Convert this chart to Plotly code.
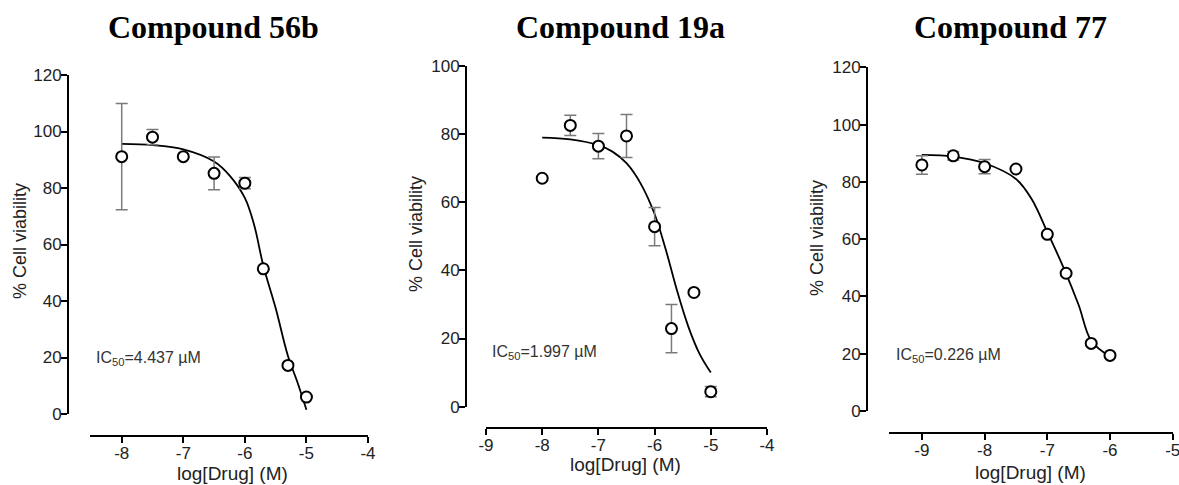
import plotly.graph_objects as go

W, H = 1179, 485

# ---------------- data ----------------
titles = ["Compound 56b", "Compound 19a", "Compound 77"]
ic50_labels = ["4.437", "1.997", "0.226"]

# Compound 56b
x1 = [-8.0, -7.5, -7.0, -6.5, -6.0, -5.7, -5.3, -5.0]
y1 = [91.1, 98.0, 91.1, 85.2, 81.7, 51.4, 17.2, 6.0]
e1 = [18.8, 2.7, 0.0, 5.8, 2.0, 0.0, 0.0, 0.0]
x1_fit = [-8.0, -7.5, -7.0, -6.5, -6.25, -6.0, -5.85, -5.7, -5.5, -5.3, -5.15, -5.0]
y1_fit = [95.6, 95.2, 93.7, 89.4, 84.5, 76.5, 67.0, 52.5, 37.5, 20.5, 11.5, 1.5]

# Compound 19a
x2 = [-8.0, -7.5, -7.0, -6.5, -6.0, -5.7, -5.3, -5.0]
y2 = [67.0, 82.5, 76.4, 79.4, 52.8, 22.9, 33.5, 4.4]
e2 = [0.0, 3.0, 3.7, 6.3, 5.6, 7.1, 0.0, 1.5]
x2_fit = [-8.0, -7.5, -7.0, -6.75, -6.5, -6.25, -6.0, -5.8, -5.6, -5.4, -5.2, -5.0]
y2_fit = [78.9, 78.4, 76.7, 74.8, 71.4, 65.5, 56.5, 46.0, 34.0, 23.5, 15.5, 10.0]

# Compound 77
x3 = [-9.0, -8.5, -8.0, -7.5, -7.0, -6.7, -6.3, -6.0]
y3 = [85.9, 89.1, 85.3, 84.5, 61.7, 48.1, 23.6, 19.4]
e3 = [3.2, 1.5, 2.5, 0.0, 0.0, 0.0, 0.0, 0.0]
x3_fit = [-9.0, -8.5, -8.0, -7.5, -7.25, -7.0, -6.75, -6.5, -6.3, -6.0]
y3_fit = [89.4, 88.8, 86.5, 81.0, 74.0, 62.5, 50.5, 37.0, 24.5, 19.0]

x_ranges = [[-8.515, -4.0], [-9.0, -4.0], [-9.52, -5.0]]
y_ranges = [[0, 120], [0, 100], [0, 120]]
x_ticks = [[-8, -7, -6, -5, -4], [-9, -8, -7, -6, -5, -4], [-9, -8, -7, -6, -5]]
y_ticks = [[0, 20, 40, 60, 80, 100, 120], [0, 20, 40, 60, 80, 100], [0, 20, 40, 60, 80, 100, 120]]

# ---------------- layout geometry (pixels) ----------------
xax_px = [(90, 368, 436), (486, 767, 427.7), (889.3, 1172.7, 432.7)]
yax_px = [(68, 414, 75), (466, 406.7, 65.7), (867, 411, 67.3)]
title_px = [(213, 27), (620, 27), (1010, 27)]
ic50_px = [(94, 358), (490, 352), (894, 355)]
ytitle_px = [(20, 241), (416, 234), (817, 238)]
xtitle_px = [(232, 473), (625, 464), (1030, 472)]


def px(x):
    return x / W


def py(y):
    return 1 - y / H


fig = go.Figure()
series = [(x1, y1, e1, x1_fit, y1_fit), (x2, y2, e2, x2_fit, y2_fit), (x3, y3, e3, x3_fit, y3_fit)]

tick_font = dict(family="Liberation Sans, Arial, sans-serif", size=17, color="#222")
layout = {}
annotations = []
for i, (xs, ys, es, xf, yf) in enumerate(series):
    n = "" if i == 0 else str(i + 1)
    xa, ya = "x" + n, "y" + n
    fig.add_trace(go.Scatter(x=xf, y=yf, mode="lines", line=dict(color="black", width=1.8, shape="spline", smoothing=1.0),
                             xaxis=xa, yaxis=ya, showlegend=False, hoverinfo="skip", cliponaxis=False))
    fig.add_trace(go.Scatter(x=xs, y=ys, mode="markers",
                             marker=dict(symbol="circle", size=11, color="white", line=dict(color="black", width=2)),
                             error_y=dict(type="data", array=es, visible=True, color="#7a7a7a", thickness=1.5, width=6),
                             xaxis=xa, yaxis=ya, showlegend=False, cliponaxis=False))
    xl, xr, xb = xax_px[i]
    yx, yb, yt = yax_px[i]
    layout["xaxis" + n] = dict(domain=[px(xl), px(xr)], range=x_ranges[i], anchor="free", position=py(xb),
                               showline=True, linecolor="black", linewidth=2, ticks="outside", ticklen=6,
                               tickwidth=2, tickcolor="black", tickmode="array", tickvals=x_ticks[i],
                               ticktext=[str(v) for v in x_ticks[i]], showgrid=False, zeroline=False,
                               tickfont=tick_font, fixedrange=True, automargin=False, ticklabelstandoff=-4,
                               ticklabeloverflow="allow")
    layout["yaxis" + n] = dict(domain=[py(yb), py(yt)], range=y_ranges[i], anchor="free", position=px(yx),
                               showline=True, linecolor="black", linewidth=2, ticks="outside", ticklen=6,
                               tickwidth=2, tickcolor="black", tickmode="array", tickvals=y_ticks[i],
                               ticktext=[str(v) for v in y_ticks[i]], showgrid=False, zeroline=False,
                               tickfont=tick_font, fixedrange=True, automargin=False, ticklabelstandoff=-4,
                               ticklabeloverflow="allow")
    tx, ty = title_px[i]
    annotations.append(dict(text="<b>" + titles[i] + "</b>", x=px(tx), y=py(ty), xref="paper", yref="paper",
                            xanchor="center", yanchor="middle", showarrow=False,
                            font=dict(family="Liberation Serif, Times New Roman, serif", size=32, color="black")))
    ix, iy = ic50_px[i]
    annotations.append(dict(text="IC<sub>50</sub>=" + ic50_labels[i] + " µM", x=px(ix), y=py(iy), xref="paper",
                            yref="paper", xanchor="left", yanchor="middle", showarrow=False,
                            font=dict(family="Liberation Sans, Arial, sans-serif", size=16, color="#333")))
    yx_, yy_ = ytitle_px[i]
    annotations.append(dict(text="% Cell viability", x=px(yx_), y=py(yy_), xref="paper", yref="paper",
                            xanchor="center", yanchor="middle", textangle=-90, showarrow=False,
                            font=dict(family="Liberation Sans, Arial, sans-serif", size=18, color="#222")))
    xx_, xy_ = xtitle_px[i]
    annotations.append(dict(text="log[Drug] (M)", x=px(xx_), y=py(xy_), xref="paper", yref="paper",
                            xanchor="center", yanchor="middle", showarrow=False,
                            font=dict(family="Liberation Sans, Arial, sans-serif", size=19, color="#222")))

fig.update_layout(width=W, height=H, margin=dict(l=0, r=0, t=0, b=0, pad=0, autoexpand=False),
                  paper_bgcolor="white", plot_bgcolor="white", annotations=annotations, **layout)
fig.write_html("out.html", config={"displayModeBar": False},
               post_script="document.body.style.margin='0';document.body.style.overflow='hidden';")
